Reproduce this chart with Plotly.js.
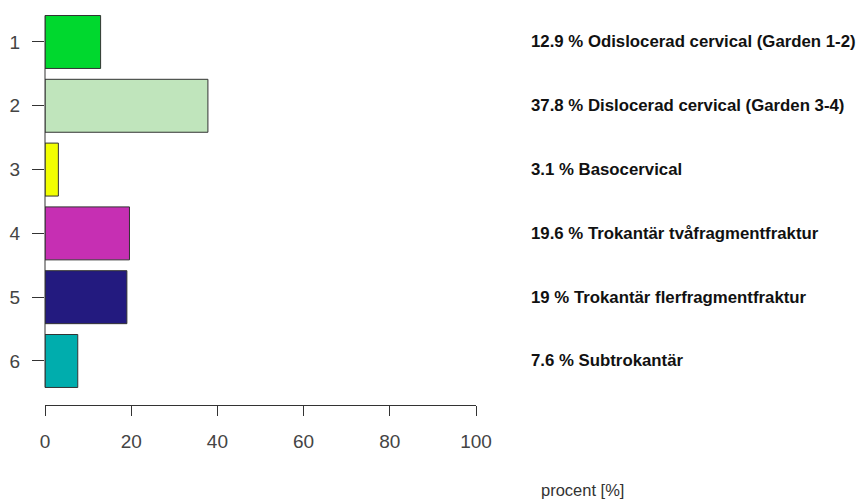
<!DOCTYPE html>
<html>
<head>
<meta charset="utf-8">
<script src="https://cdn.plot.ly/plotly-3.0.1.min.js"></script>
<style>html,body{margin:0;padding:0;background:#fff;}#chart{width:859px;height:500px;}</style>
</head>
<body>
<div id="chart"></div>
<script>
const categories = [1, 2, 3, 4, 5, 6];
const values = [12.9, 37.8, 3.1, 19.6, 19, 7.6];
const names = [
  "Odislocerad cervical (Garden 1-2)",
  "Dislocerad cervical (Garden 3-4)",
  "Basocervical",
  "Trokantär tvåfragmentfraktur",
  "Trokantär flerfragmentfraktur",
  "Subtrokantär"
];
const colors = ["#00d82e", "#c0e5bc", "#f2ff00", "#c62fb3", "#231a7f", "#00adad"];
const xTicks = [0, 20, 40, 60, 80, 100];

const FONT = "'Liberation Sans', Arial, sans-serif";
const yRange = [6.69, 0.342];
const barWidth = 0.83;
const toPaperY = v => (yRange[0] - v) / (yRange[0] - yRange[1]);

const trace = {
  type: "bar",
  orientation: "h",
  x: values,
  y: categories,
  width: barWidth,
  marker: { color: colors, line: { color: "#333333", width: 1 } },
  hoverinfo: "skip"
};

const annotations = categories.map((c, i) => ({
  xref: "paper", yref: "y",
  x: 1.123, y: c,
  xanchor: "left", yanchor: "middle",
  text: "<b>" + values[i] + " % " + names[i] + "</b>",
  showarrow: false,
  font: { family: FONT, size: 16.8, color: "#111" }
}));
annotations.push({
  xref: "paper", yref: "paper",
  x: 1.246, y: -0.21,
  xanchor: "center", yanchor: "middle",
  text: "procent [%]",
  showarrow: false,
  font: { family: FONT, size: 16.5, color: "#333" }
});

const layout = {
  width: 859, height: 500,
  margin: { l: 45, r: 383, t: 0, b: 95 },
  paper_bgcolor: "#fff", plot_bgcolor: "#fff",
  showlegend: false,
  font: { family: FONT },
  xaxis: {
    range: [0, 100],
    tickvals: xTicks,
    ticktext: xTicks.map(String),
    ticks: "outside", ticklen: 10, tickwidth: 1, tickcolor: "#333",
    showline: true, linecolor: "#333", linewidth: 1,
    showgrid: false, zeroline: false,
    ticklabelstandoff: 9,
    tickfont: { family: FONT, size: 19, color: "#444" }
  },
  yaxis: {
    range: yRange,
    tickvals: categories,
    ticktext: categories.map(String),
    ticks: "outside", ticklen: 12, tickwidth: 1, tickcolor: "#333",
    showline: false, showgrid: false, zeroline: false,
    ticklabelstandoff: 8,
    tickfont: { family: FONT, size: 19, color: "#444" }
  },
  shapes: [{
    type: "line", layer: "above",
    xref: "paper", yref: "paper",
    x0: 0, x1: 0,
    y0: toPaperY(categories[categories.length - 1] + barWidth / 2),
    y1: toPaperY(categories[0] - barWidth / 2),
    line: { color: "#333", width: 1 }
  }],
  annotations: annotations
};

Plotly.newPlot("chart", [trace], layout, { displayModeBar: false, staticPlot: true });
</script>
</body>
</html>
